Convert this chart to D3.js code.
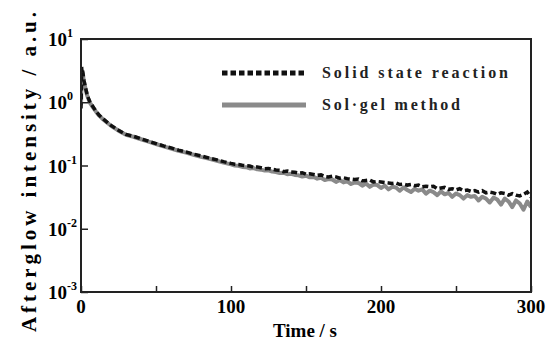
<!DOCTYPE html>
<html>
<head>
<meta charset="utf-8">
<script src="https://cdn.jsdelivr.net/npm/d3@7"></script>
<style>
  body { margin: 0; background: #fff; }
  svg { display: block; }
</style>
</head>
<body>
<div id="chart"></div>
<script>
// Time axis (s) shared by both series
var times = [0, 0.5, 1.2, 2, 3, 4, 5, 6, 8, 10, 12, 15, 20, 25, 30,
  35, 40, 45, 50, 55, 60, 65, 70, 75, 80, 85, 90, 95,
  100, 102.5, 105, 107.5, 110, 112.5, 115, 117.5, 120, 122.5,
  125, 127.5, 130, 132.5, 135, 137.5, 140, 142.5, 145, 147.5,
  150, 152.5, 155, 157.5, 160, 162.5, 165, 167.5, 170, 172.5,
  175, 177.5, 180, 182.5, 185, 187.5, 190, 192.5, 195, 197.5,
  200, 202.5, 205, 207.5, 210, 212.5, 215, 217.5, 220, 222.5,
  225, 227.5, 230, 232.5, 235, 237.5, 240, 242.5, 245, 247.5,
  250, 252.5, 255, 257.5, 260, 262.5, 265, 267.5, 270, 272.5,
  275, 277.5, 280, 282.5, 285, 287.5, 290, 292.5, 295, 297.5, 300];

// Afterglow intensity (a.u.)
var solidState = [0.8, 3.6, 3.0, 2.2, 1.7, 1.35, 1.15, 1.0, 0.85, 0.72, 0.63, 0.54, 0.43, 0.36, 0.31,
  0.29, 0.265, 0.242, 0.222, 0.204, 0.19, 0.175, 0.164, 0.151, 0.142, 0.132, 0.124, 0.115,
  0.108, 0.105, 0.104, 0.101, 0.099, 0.098, 0.094, 0.095, 0.092, 0.089,
  0.090, 0.087, 0.085, 0.084, 0.080, 0.082, 0.079, 0.078, 0.076, 0.077,
  0.073, 0.074, 0.072, 0.070, 0.071, 0.067, 0.066, 0.068, 0.066, 0.063,
  0.064, 0.062, 0.061, 0.060, 0.061, 0.057, 0.058, 0.059, 0.055, 0.056,
  0.055, 0.054, 0.053, 0.052, 0.053, 0.050, 0.051, 0.049, 0.050, 0.048,
  0.049, 0.046, 0.047, 0.046, 0.047, 0.043, 0.044, 0.045, 0.042, 0.043,
  0.041, 0.043, 0.040, 0.041, 0.039, 0.040, 0.038, 0.040, 0.037, 0.038,
  0.037, 0.035, 0.037, 0.036, 0.034, 0.036, 0.034, 0.033, 0.035, 0.038, 0.032];

var solGel = [0.9, 3.2, 2.8, 2.1, 1.65, 1.3, 1.12, 0.98, 0.83, 0.71, 0.62, 0.53, 0.425, 0.355, 0.305,
  0.285, 0.26, 0.238, 0.219, 0.201, 0.186, 0.171, 0.16, 0.148, 0.137, 0.129, 0.12, 0.111,
  0.104, 0.100, 0.099, 0.095, 0.094, 0.090, 0.091, 0.087, 0.086, 0.083,
  0.084, 0.080, 0.079, 0.076, 0.077, 0.073, 0.074, 0.071, 0.070, 0.067,
  0.069, 0.065, 0.066, 0.062, 0.064, 0.059, 0.061, 0.060, 0.055, 0.059,
  0.054, 0.056, 0.051, 0.054, 0.053, 0.048, 0.052, 0.046, 0.050, 0.049,
  0.044, 0.048, 0.042, 0.046, 0.045, 0.040, 0.045, 0.041, 0.038, 0.043,
  0.040, 0.042, 0.036, 0.040, 0.038, 0.034, 0.039, 0.035, 0.037, 0.032,
  0.036, 0.034, 0.030, 0.034, 0.032, 0.033, 0.028, 0.032, 0.030, 0.026,
  0.031, 0.029, 0.024, 0.030, 0.027, 0.022, 0.028, 0.025, 0.020, 0.027, 0.022];

var xTicks = [0, 100, 200, 300];
var xMinorTicks = [50, 150, 250];
var yTicks = [1e-3, 1e-2, 1e-1, 1e0, 1e1];
var yExponents = ["-3", "-2", "-1", "0", "1"];

var legendNames = ["Solid state reaction", "Sol\u00b7gel method"];

// Dimensions
var width = 553, height = 343;
var margin = { top: 39, right: 22, bottom: 51, left: 81 };
var innerWidth = width - margin.left - margin.right;
var innerHeight = height - margin.top - margin.bottom;

var serif = "'Liberation Serif', 'Times New Roman', serif";

var x = d3.scaleLinear().domain([0, 300]).range([0, innerWidth]);
var y = d3.scaleLog().domain([1e-3, 10]).range([innerHeight, 0]);

var svg = d3.select("#chart").append("svg")
    .attr("width", width)
    .attr("height", height);

var g = svg.append("g")
    .attr("transform", `translate(${margin.left}, ${margin.top})`);

g.append("clipPath").attr("id", "clip")
  .append("rect").attr("width", innerWidth).attr("height", innerHeight);

// Lines
var line = d3.line()
    .x((d, i) => x(times[i]))
    .y(d => y(d));

var plot = g.append("g").attr("clip-path", "url(#clip)");

plot.append("path")
    .datum(solGel)
    .attr("fill", "none")
    .attr("stroke", "#8a8a8a")
    .attr("stroke-width", 4)
    .attr("stroke-linejoin", "round")
    .attr("d", line);

plot.append("path")
    .datum(solidState)
    .attr("fill", "none")
    .attr("stroke", "#111")
    .attr("stroke-width", 3.5)
    .attr("stroke-dasharray", "6,3")
    .attr("d", line);

// Bottom axis (ticks pointing inward)
var xAxis = g.append("g")
    .attr("transform", `translate(0, ${innerHeight})`)
    .call(d3.axisBottom(x).tickValues(xTicks.concat(xMinorTicks)).tickSize(-6).tickFormat(""));
xAxis.select(".domain").remove();
xAxis.selectAll("line").attr("stroke", "#222").attr("stroke-width", 1.5);

g.selectAll(".xlabel")
  .data(xTicks)
  .enter().append("text")
    .attr("class", "xlabel")
    .attr("x", d => x(d))
    .attr("y", innerHeight + 21)
    .attr("text-anchor", "middle")
    .style("font-family", serif)
    .style("font-weight", "bold")
    .style("font-size", "19px")
    .text(d => d);

// Left axis (ticks pointing inward)
var yAxis = g.append("g")
    .call(d3.axisLeft(y).tickValues(yTicks).tickSize(-7).tickFormat(""));
yAxis.select(".domain").remove();
yAxis.selectAll("line").attr("stroke", "#222").attr("stroke-width", 1.5);

// "10" with a raised exponent, one text per tick
var yLabels = g.selectAll(".ylabel")
  .data(yTicks)
  .enter().append("text")
    .attr("class", "ylabel")
    .attr("x", -33)
    .attr("y", d => y(d) + 7)
    .style("font-family", serif)
    .style("font-weight", "bold")
    .style("font-size", "19px");

yLabels.append("tspan").text("10");
yLabels.append("tspan")
    .attr("dy", -9)
    .style("font-size", "12px")
    .text((d, i) => yExponents[i]);

// Frame
g.append("rect")
    .attr("width", innerWidth)
    .attr("height", innerHeight)
    .attr("fill", "none")
    .attr("stroke", "#222")
    .attr("stroke-width", 2);

// Axis titles
svg.append("text")
    .attr("x", margin.left + innerWidth / 2 - 1)
    .attr("y", 337)
    .attr("text-anchor", "middle")
    .style("font-family", serif)
    .style("font-weight", "bold")
    .style("font-size", "19px")
    .text("Time / s");

svg.append("text")
    .attr("transform", "translate(36, 172) rotate(-90)")
    .attr("text-anchor", "middle")
    .attr("textLength", 320)
    .attr("lengthAdjust", "spacing")
    .style("font-family", serif)
    .style("font-weight", "bold")
    .style("font-size", "21px")
    .text("Afterglow intensity / a.u.");

// Legend
var legend = svg.append("g");
var legendY = [73, 105];

legend.append("line")
    .attr("x1", 222).attr("x2", 306)
    .attr("y1", legendY[0]).attr("y2", legendY[0])
    .attr("stroke", "#111")
    .attr("stroke-width", 5)
    .attr("stroke-dasharray", "5.5,3");

legend.append("line")
    .attr("x1", 222).attr("x2", 306)
    .attr("y1", legendY[1]).attr("y2", legendY[1])
    .attr("stroke", "#8a8a8a")
    .attr("stroke-width", 5);

legend.selectAll(".legtext")
  .data(legendNames)
  .enter().append("text")
    .attr("class", "legtext")
    .attr("x", 322)
    .attr("y", (d, i) => legendY[i] + 5)
    .attr("textLength", (d, i) => i === 0 ? 186 : 138)
    .attr("lengthAdjust", "spacing")
    .style("font-family", serif)
    .style("font-weight", "bold")
    .style("font-size", "16px")
    .style("fill", "#222")
    .text(d => d);
</script>
</body>
</html>
